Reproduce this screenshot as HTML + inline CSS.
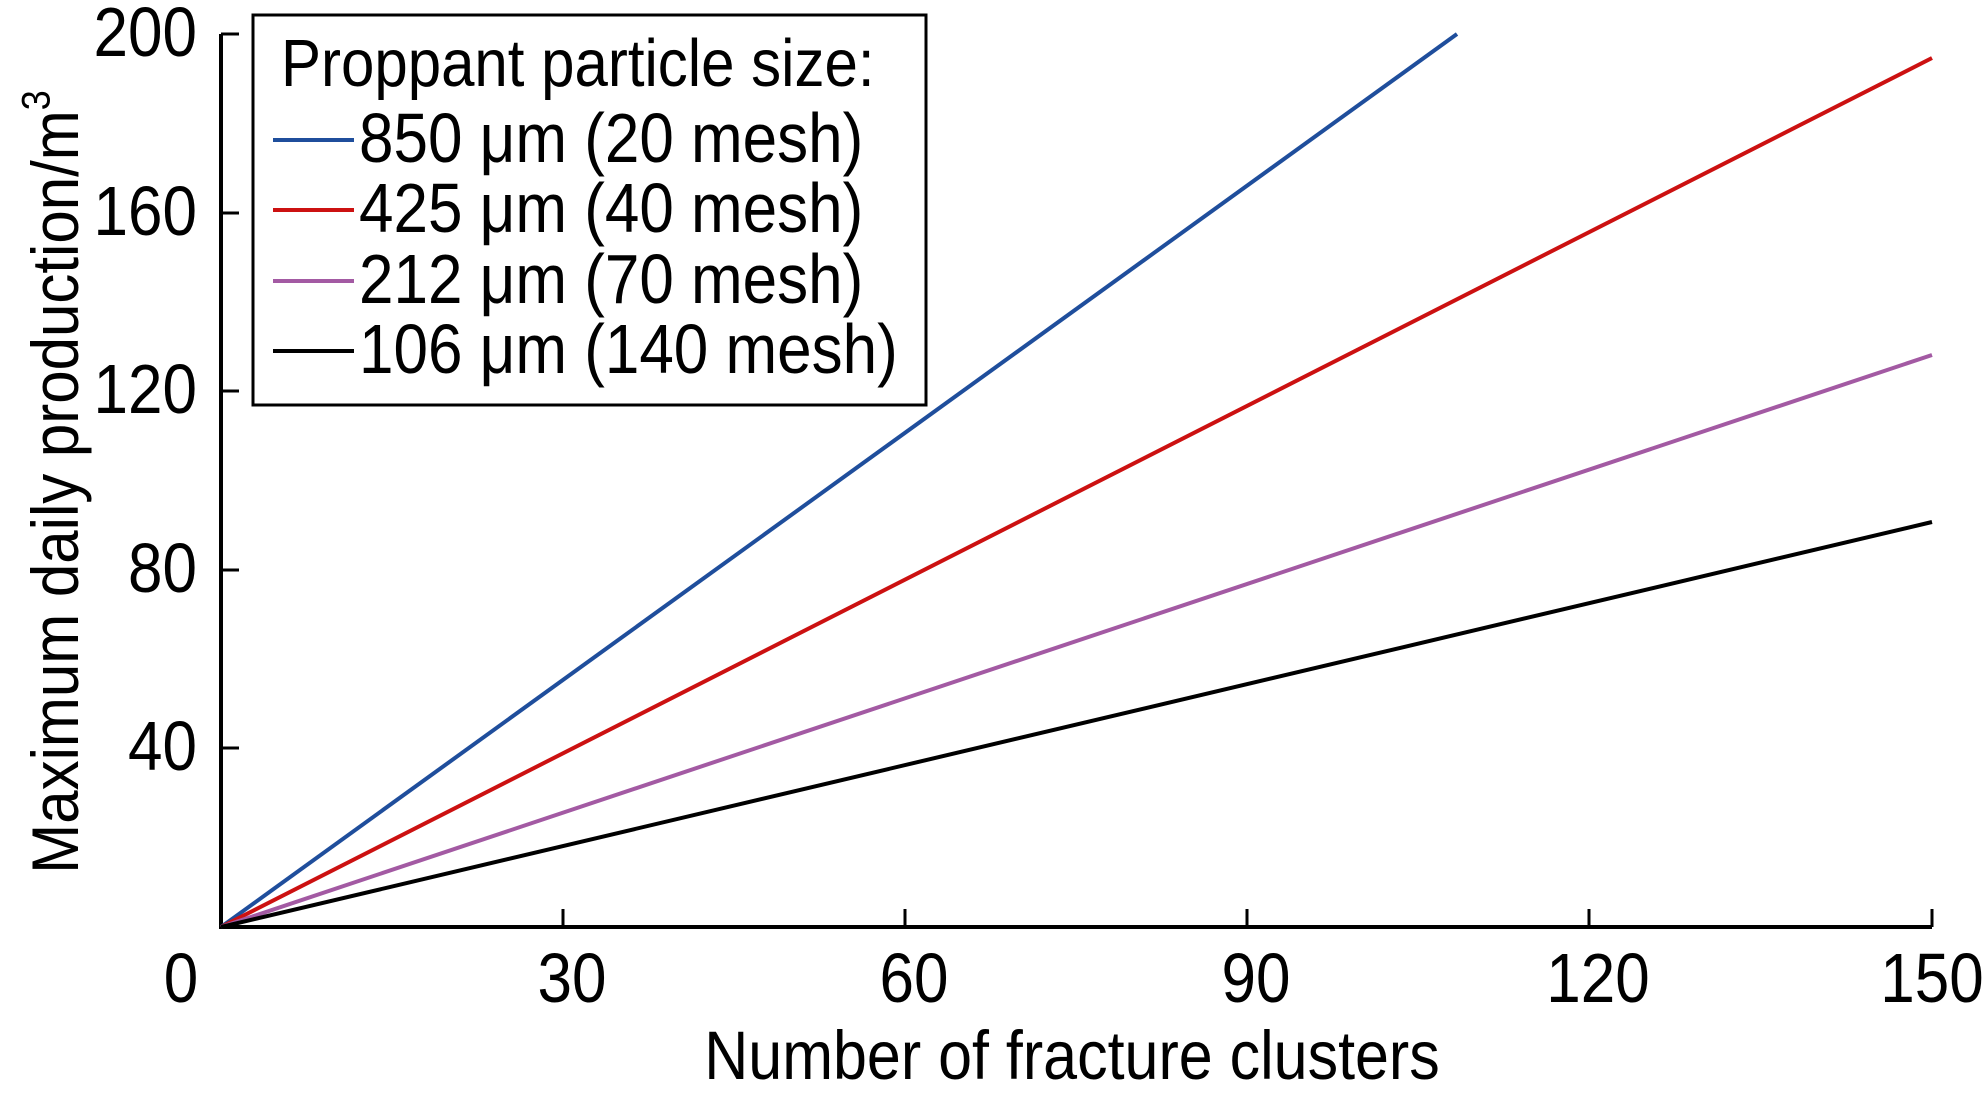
<!DOCTYPE html>
<html><head><meta charset="utf-8"><style>
html,body{margin:0;padding:0;background:#fff;}
svg{display:block;}
text{font-family:"Liberation Sans",sans-serif;fill:#000;}
.s{transform-box:fill-box;transform-origin:50% 80%;transform:scaleY(1.12);}
</style></head><body>
<svg width="1983" height="1100" viewBox="0 0 1983 1100" xmlns="http://www.w3.org/2000/svg">
<g font-size="62">
<polyline points="221,34 221,927 1932,927" fill="none" stroke="#000" stroke-width="4"/>
<g stroke="#000" stroke-width="3">
<line x1="563" y1="927" x2="563" y2="909"/>
<line x1="905" y1="927" x2="905" y2="909"/>
<line x1="1247" y1="927" x2="1247" y2="909"/>
<line x1="1589" y1="927" x2="1589" y2="909"/>
<line x1="1932" y1="927" x2="1932" y2="909"/>
<line x1="221" y1="748" x2="239" y2="748"/>
<line x1="221" y1="570" x2="239" y2="570"/>
<line x1="221" y1="391" x2="239" y2="391"/>
<line x1="221" y1="213" x2="239" y2="213"/>
<line x1="221" y1="34" x2="239" y2="34"/>
</g>
<g text-anchor="middle">
<text class="s" x="181" y="1002">0</text>
<text class="s" x="572" y="1002">30</text>
<text class="s" x="914" y="1002">60</text>
<text class="s" x="1256" y="1002">90</text>
<text class="s" x="1598" y="1002">120</text>
<text class="s" x="1932" y="1002">150</text>
</g>
<g text-anchor="end">
<text class="s" x="197" y="770">40</text>
<text class="s" x="197" y="592">80</text>
<text class="s" x="197" y="413">120</text>
<text class="s" x="197" y="235">160</text>
<text class="s" x="197" y="56">200</text>
</g>
<text class="s" x="1072" y="1079" text-anchor="middle" font-size="61">Number of fracture clusters</text>
<text transform="translate(78,482) rotate(-90) scale(1,1.1)" text-anchor="middle" font-size="60">Maximum daily production/m<tspan font-size="36" dy="-26">3</tspan></text>
<g fill="none" stroke-width="4">
<line x1="221" y1="927" x2="1457" y2="34" stroke="#1f4e9c"/>
<line x1="221" y1="927" x2="1932" y2="58" stroke="#cc1111"/>
<line x1="221" y1="927" x2="1932" y2="355" stroke="#a35aa3"/>
<line x1="221" y1="927" x2="1932" y2="522" stroke="#000"/>
</g>
<rect x="253" y="15" width="673" height="390" fill="#fff" stroke="#000" stroke-width="3"/>
<text class="s" x="281" y="86" font-size="60">Proppant particle size:</text>
<g stroke-width="4">
<line x1="273" y1="140" x2="354" y2="140" stroke="#1f4e9c"/>
<line x1="273" y1="210" x2="354" y2="210" stroke="#cc1111"/>
<line x1="273" y1="281" x2="354" y2="281" stroke="#a35aa3"/>
<line x1="273" y1="351" x2="354" y2="351" stroke="#000"/>
</g>
<g font-size="62">
<text class="s" x="359" y="162">850 μm (20 mesh)</text>
<text class="s" x="359" y="232">425 μm (40 mesh)</text>
<text class="s" x="359" y="303">212 μm (70 mesh)</text>
<text class="s" x="359" y="373">106 μm (140 mesh)</text>
</g>
</g>
</svg>
</body></html>
